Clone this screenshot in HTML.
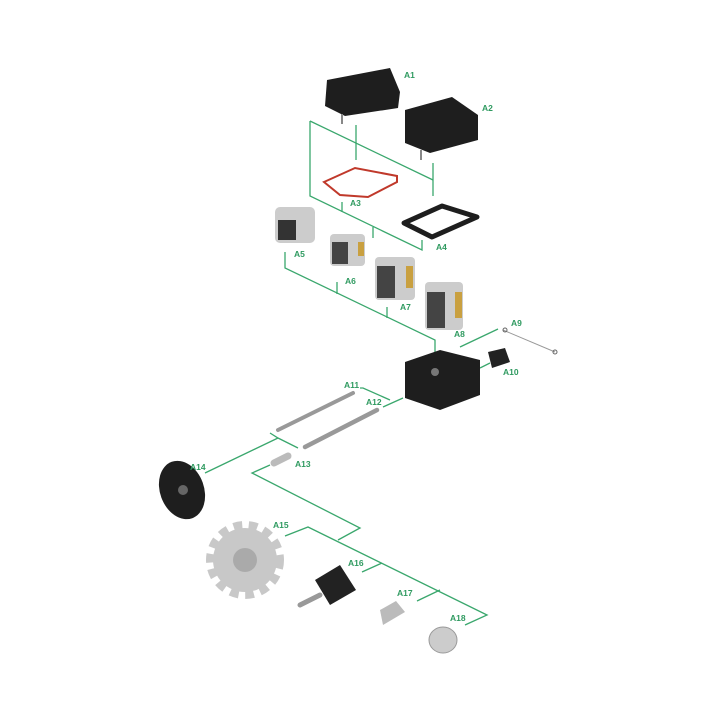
<!DOCTYPE html>
<html><head><meta charset="utf-8"><style>html,body{margin:0;padding:0;background:#fff}svg{display:block}text{font-family:"Liberation Sans",sans-serif;font-size:8.5px;font-weight:bold;fill:#2f9a60}</style></head>
<body>
<svg width="720" height="715" viewBox="0 0 720 715" xmlns="http://www.w3.org/2000/svg">
<g stroke="#3aa76d" stroke-width="1.3" fill="none">
<polyline points="310,121 310,196 422,250 422,240"/>
<line x1="310" y1="121" x2="433" y2="180"/>
<line x1="356" y1="125" x2="356" y2="160"/>
<line x1="433" y1="163" x2="433" y2="196"/>
<line x1="342" y1="202" x2="342" y2="212"/>
<line x1="373" y1="227" x2="373" y2="238"/>
<polyline points="285,252 285,268 435,340 435,372"/>
<line x1="337" y1="282" x2="337" y2="294"/>
<line x1="387" y1="307" x2="387" y2="318"/>
<line x1="460" y1="347" x2="498" y2="329"/>
<line x1="480" y1="368" x2="490" y2="363"/>
<polyline points="360,388 363,388 390,400"/>
<line x1="383" y1="407" x2="403" y2="398"/>
<polyline points="270,433 278,438 298,448"/>
<line x1="278" y1="438" x2="205" y2="473"/>
<polyline points="270,465 252,473 360,528 338,540"/>
<polyline points="285,536 308,527 487,615 465,625"/>
<polyline points="362,572 382,563"/>
<polyline points="417,601 440,590"/>
</g>
<!-- A1 -->
<path d="M327,80 L390,68 L400,92 L398,108 L345,116 L325,106 Z" fill="#1e1e1e"/>
<line x1="342" y1="114" x2="342" y2="124" stroke="#888" stroke-width="2"/>
<!-- A2 -->
<path d="M405,110 L452,97 L478,115 L478,140 L430,153 L405,143 Z" fill="#1e1e1e"/>
<line x1="421" y1="150" x2="421" y2="160" stroke="#888" stroke-width="2"/>
<!-- A3 -->
<path d="M324,182 L355,168 L397,176 L397,182 L368,197 L340,195 Z" fill="none" stroke="#c0392b" stroke-width="2"/>
<!-- A4 -->
<path d="M404,223 L442,206 L477,217 L432,237 Z" fill="none" stroke="#1e1e1e" stroke-width="5" stroke-linejoin="round"/>
<!-- blocks -->
<rect x="275" y="207" width="40" height="36" rx="5" fill="#ccc"/><rect x="278" y="220" width="18" height="20" fill="#333"/>
<rect x="330" y="234" width="35" height="32" rx="4" fill="#ccc"/><rect x="332" y="242" width="16" height="22" fill="#444"/><rect x="358" y="242" width="6" height="14" fill="#c9a040"/>
<rect x="375" y="257" width="40" height="43" rx="4" fill="#ccc"/><rect x="377" y="266" width="18" height="32" fill="#444"/><rect x="406" y="266" width="7" height="22" fill="#c9a040"/>
<rect x="425" y="282" width="38" height="48" rx="4" fill="#ccc"/><rect x="427" y="292" width="18" height="36" fill="#444"/><rect x="455" y="292" width="7" height="26" fill="#c9a040"/>
<!-- A9 -->
<line x1="503" y1="330" x2="555" y2="352" stroke="#999" stroke-width="1"/>
<circle cx="505" cy="330" r="2" fill="none" stroke="#666"/><circle cx="555" cy="352" r="2" fill="none" stroke="#666"/>
<!-- A10 body -->
<path d="M405,362 L440,350 L480,360 L480,395 L440,410 L405,398 Z" fill="#1e1e1e"/>
<circle cx="435" cy="372" r="4" fill="#777"/>
<path d="M488,352 L505,348 L510,362 L492,368 Z" fill="#222"/>
<!-- rods -->
<line x1="278" y1="430" x2="353" y2="393" stroke="#999" stroke-width="4" stroke-linecap="round"/>
<line x1="305" y1="447" x2="377" y2="410" stroke="#999" stroke-width="4.5" stroke-linecap="round"/>
<line x1="274" y1="463" x2="288" y2="456" stroke="#bbb" stroke-width="7" stroke-linecap="round"/>
<!-- A14 -->
<ellipse cx="182" cy="490" rx="22" ry="30" fill="#1e1e1e" transform="rotate(-20 182 490)"/>
<circle cx="183" cy="490" r="5" fill="#666"/>
<!-- A15 gear -->
<circle cx="245" cy="560" r="32" fill="#c8c8c8" stroke="#c8c8c8" stroke-width="14" stroke-dasharray="8 6"/>
<circle cx="245" cy="560" r="12" fill="#aaa"/>
<!-- A16 -->
<path d="M315,580 L340,565 L356,590 L330,605 Z" fill="#222"/>
<line x1="300" y1="605" x2="320" y2="595" stroke="#999" stroke-width="5" stroke-linecap="round"/>
<!-- A17 -->
<path d="M380,610 L396,601 L405,612 L383,625 Z" fill="#bbb"/>
<!-- A18 -->
<ellipse cx="443" cy="640" rx="14" ry="13" fill="#ccc" stroke="#999"/>
<g>
<text x="404" y="78">A1</text><text x="482" y="111">A2</text><text x="350" y="206">A3</text><text x="436" y="250">A4</text>
<text x="294" y="257">A5</text><text x="345" y="284">A6</text><text x="400" y="310">A7</text><text x="454" y="337">A8</text>
<text x="511" y="326">A9</text><text x="503" y="375">A10</text><text x="344" y="388">A11</text><text x="366" y="405">A12</text>
<text x="295" y="467">A13</text><text x="190" y="470">A14</text><text x="273" y="528">A15</text><text x="348" y="566">A16</text>
<text x="397" y="596">A17</text><text x="450" y="621">A18</text>
</g>
</svg>
</body></html>
